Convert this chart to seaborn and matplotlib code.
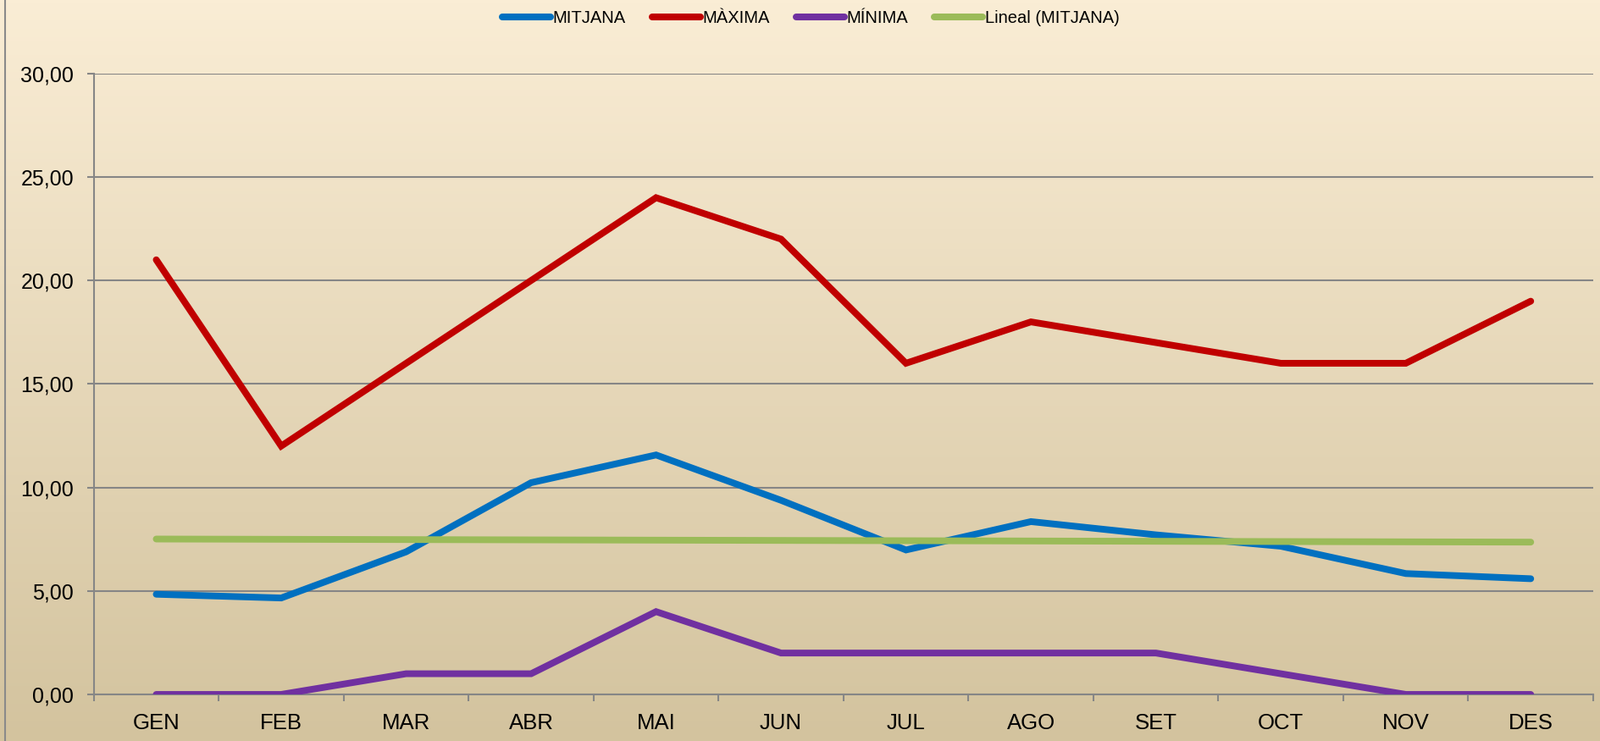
import numpy as np
import pandas as pd
import matplotlib
matplotlib.use("Agg")
import matplotlib.pyplot as plt
from matplotlib.lines import Line2D
from matplotlib.ticker import FuncFormatter, FixedLocator
import seaborn as sns

# ---- data ----
months = ["GEN", "FEB", "MAR", "ABR", "MAI", "JUN", "JUL", "AGO", "SET", "OCT", "NOV", "DES"]
mitjana = [4.84, 4.66, 6.89, 10.23, 11.57, 9.38, 6.98, 8.35, 7.71, 7.16, 5.84, 5.59]
maxima = [21, 12, 16, 20, 24, 22, 16, 18, 17, 16, 16, 19]
minima = [0, 0, 1, 1, 4, 2, 2, 2, 2, 1, 0, 0]
series_names = ["MITJANA", "MÀXIMA", "MÍNIMA", "Lineal (MITJANA)"]
y_ticks = [0, 5, 10, 15, 20, 25, 30]

plt.rcParams["font.family"] = ["Liberation Sans", "DejaVu Sans"]

C_BLUE, C_RED, C_PURPLE, C_GREEN = "#0070C0", "#C00000", "#7030A0", "#9BBB59"
GRID = "#868686"
LW = 5.7

W, H = 1890, 875
fig = plt.figure(figsize=(W / 100, H / 100), dpi=100)

# gradient background
bg = fig.add_axes([0, 0, 1, 1], zorder=-10)
top = np.array([250, 237, 213]) / 255
bot = np.array([211, 195, 158]) / 255
t = np.linspace(0, 1, 256)[:, None, None]
grad = top * (1 - t) + bot * t
bg.imshow(grad, aspect="auto", extent=[0, 1, 0, 1])
bg.axvline(6 / W, color="#8a8a8a", lw=1.5)
bg.set_xlim(0, 1)
bg.set_ylim(0, 1)
bg.axis("off")

left, right, ytop, ybot = 110.7, 1881, 86.8, 820
ax = fig.add_axes([left / W, (H - ybot) / H, (right - left) / W, (ybot - ytop) / H])
ax.patch.set_alpha(0)

df = pd.DataFrame({"pos": np.arange(len(months)), "mes": months,
                   "MITJANA": mitjana, "MAXIMA": maxima, "MINIMA": minima})

kw = dict(lw=LW, solid_capstyle="round", solid_joinstyle="miter", legend=False, ax=ax)
sns.lineplot(data=df, x="pos", y="MITJANA", color=C_BLUE, zorder=3, **kw)
sns.lineplot(data=df, x="pos", y="MAXIMA", color=C_RED, zorder=3, **kw)
sns.lineplot(data=df, x="pos", y="MINIMA", color=C_PURPLE, zorder=3, **kw)
sns.regplot(data=df, x="pos", y="MITJANA", scatter=False, ci=None, truncate=True, ax=ax,
            line_kws=dict(color=C_GREEN, lw=LW, solid_capstyle="round", zorder=4))

ax.set_xlim(-0.5, len(months) - 0.5)
ax.set_ylim(0, 30)
ax.set_xlabel("")
ax.set_ylabel("")

ax.set_xticks(df["pos"])
ax.set_xticklabels(months, fontfamily=["Liberation Sans Narrow", "Liberation Sans", "DejaVu Sans"])
ax.xaxis.set_minor_locator(FixedLocator(np.arange(-0.5, len(months), 1.0)))
ax.tick_params(axis="x", which="major", length=0, pad=16, labelsize=18.5, bottom=True)
ax.tick_params(axis="x", which="minor", length=6, width=1.5, color=GRID, direction="out", bottom=True)

ax.set_yticks(y_ticks)
ax.yaxis.set_major_formatter(FuncFormatter(lambda v, p: f"{v:.2f}".replace(".", ",")))
ax.tick_params(axis="y", length=6, width=1.5, color=GRID, direction="out", pad=11, labelsize=18, left=True)

ax.grid(axis="y", color=GRID, lw=1.5)
ax.grid(axis="x", visible=False)
ax.set_axisbelow(True)
for s in ["top", "right"]:
    ax.spines[s].set_visible(False)
for s in ["left", "bottom"]:
    ax.spines[s].set_color(GRID)
    ax.spines[s].set_linewidth(1.5)

handles = [Line2D([], [], color=c, lw=5.8, solid_capstyle="round")
           for c in [C_BLUE, C_RED, C_PURPLE, C_GREEN]]
fig.legend(handles, series_names, loc="center", bbox_to_anchor=(0.5066, 0.975), ncol=4,
           frameon=False, fontsize=14.5, handlelength=2.8, handletextpad=0.15, columnspacing=1.55)

fig.savefig("out.png", dpi=100)
